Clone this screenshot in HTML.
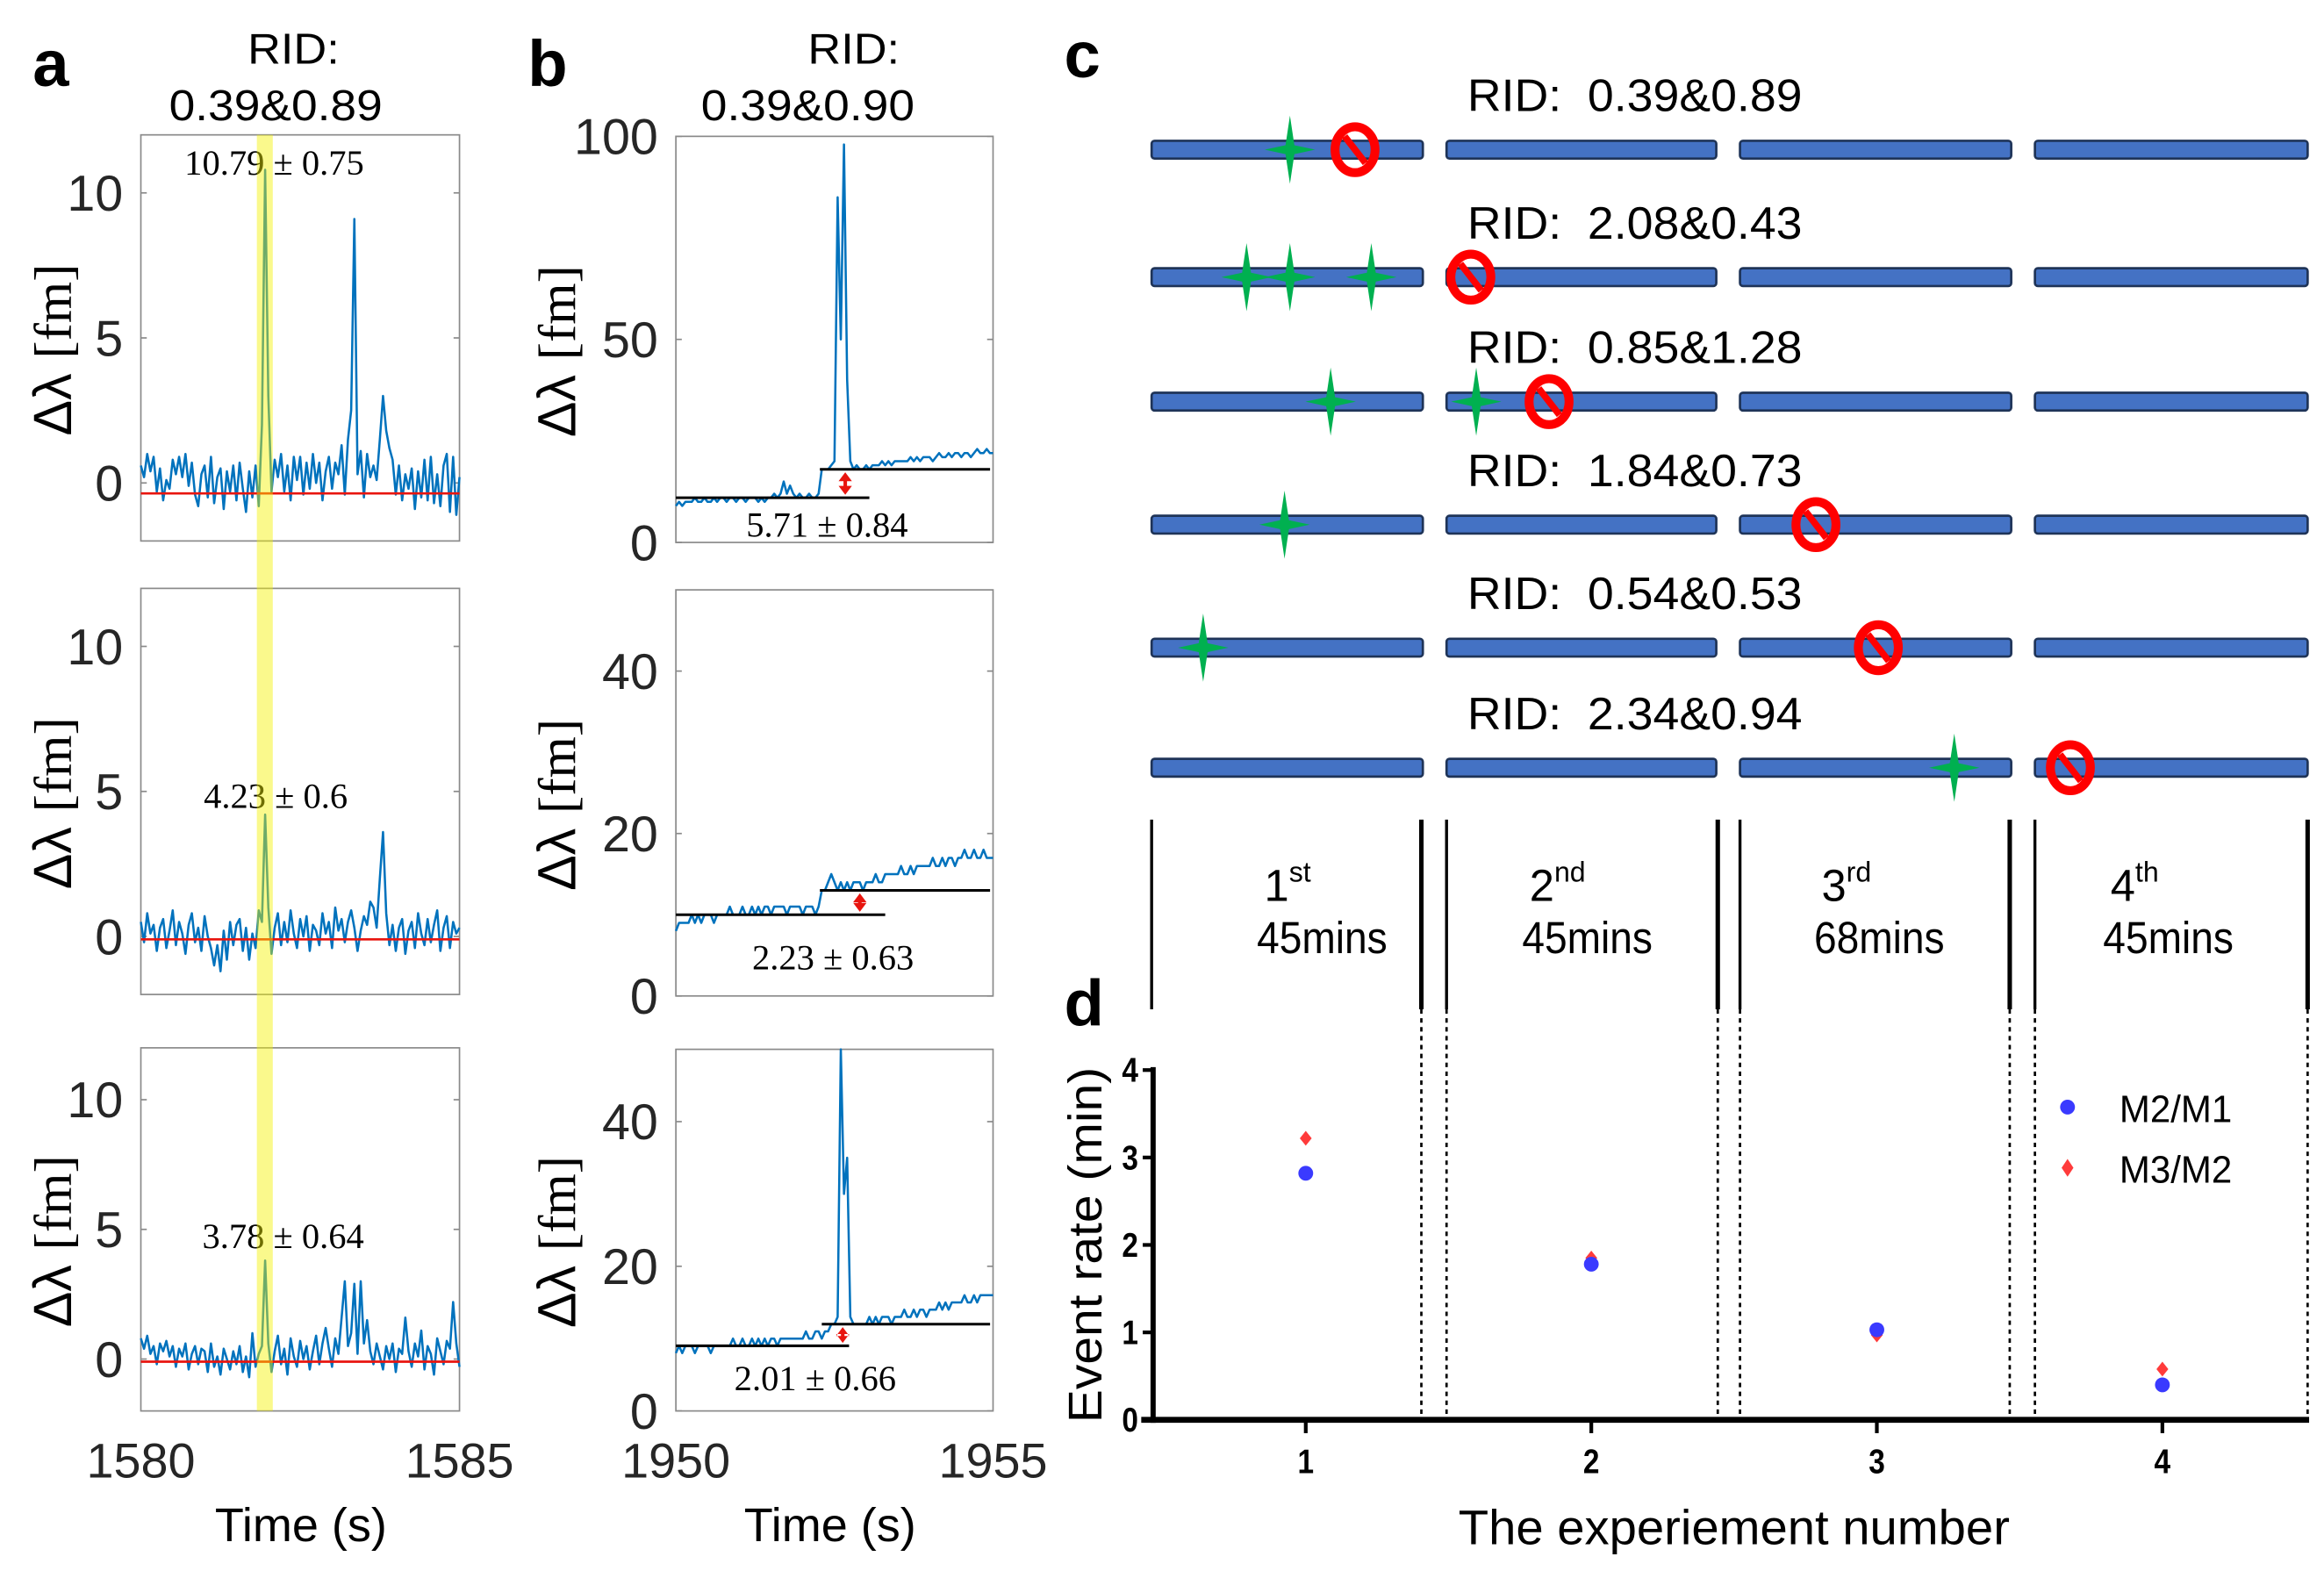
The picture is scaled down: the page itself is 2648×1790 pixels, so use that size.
<!DOCTYPE html>
<html><head><meta charset="utf-8"><style>
html,body{margin:0;padding:0;background:#fff}
svg{display:block}
.sans{font-family:"Liberation Sans",Arial,sans-serif}
.serif{font-family:"Liberation Serif","DejaVu Serif",serif}
</style></head><body>
<svg id="fig" width="2648" height="1790" viewBox="0 0 1568 1060" xmlns="http://www.w3.org/2000/svg">
<rect x="0" y="0" width="1568" height="1060" fill="#fff"/>
<g id="root"></g>
</svg>
<script>
// ---- Panel a data (x: 1580..1585, 101 samples) ----
const aTime = [1580, 1585];
const aTopVals = [0.6,0.2,1.0,0.4,0.9,-0.3,0.5,-0.6,0.1,-0.2,
0.8,0.3,0.9,0.2,1.0,-0.1,0.7,-0.4,-0.8,0.3,
0.6,-0.5,0.9,-0.7,0.2,0.5,-0.9,0.4,-0.3,0.6,
-0.6,0.7,-0.2,-1.0,0.4,-0.5,0.6,-0.8,2.0,10.8,
3.0,-0.3,0.8,0.2,1.0,-0.3,0.6,-0.6,0.9,0.1,
0.9,-0.4,0.7,-0.2,1.0,0.0,0.7,-0.6,0.4,0.9,
-0.2,0.7,0.3,1.3,-0.4,1.5,2.5,9.1,0.3,1.1,
-0.5,1.0,0.2,0.6,0.1,1.5,3.0,1.8,1.2,0.8,
-0.4,0.6,-0.6,0.3,-0.2,0.5,-0.9,0.4,-0.5,0.8,
-0.6,0.9,-0.7,0.3,-0.8,0.6,1.0,-1.0,0.9,-1.1,0.2];
const aMidVals = [0.5,-0.2,0.8,0.1,0.4,-0.5,0.3,0.6,-0.4,0.2,
0.9,-0.3,0.5,0.1,-0.6,0.4,0.8,-0.2,0.3,-0.5,
0.7,0.0,-0.4,-1.0,-0.3,-1.2,0.2,-0.8,0.5,-0.3,
0.4,0.6,-0.5,0.3,-0.8,0.1,-0.4,0.9,0.5,4.2,
1.0,-0.6,0.3,0.8,-0.3,0.5,-0.2,0.9,0.1,-0.4,
0.6,0.0,0.7,-0.5,0.4,0.2,-0.3,0.8,0.1,0.5,
-0.4,1.0,0.2,0.6,-0.2,0.5,0.9,0.3,-0.5,0.2,
0.7,0.4,1.2,1.0,0.3,2.0,3.6,0.8,-0.3,0.4,
-0.5,0.3,0.6,-0.6,0.2,0.5,-0.4,0.8,0.1,-0.3,
0.6,-0.2,0.4,0.9,-0.5,0.3,0.7,-0.4,0.5,0.1,0.3];
const aBotVals = [0.8,0.4,0.9,0.2,0.5,-0.2,0.6,0.3,0.7,0.1,
0.5,-0.3,0.4,0.1,0.6,-0.4,0.2,0.5,-0.2,0.4,
0.3,-0.5,0.6,-0.3,0.1,-0.6,0.4,0.0,-0.4,0.3,
-0.2,0.5,-0.5,0.1,-0.7,1.0,-0.3,0.2,0.5,3.8,
0.6,-0.5,0.3,0.9,-0.2,0.4,-0.6,0.8,0.1,-0.3,
0.7,0.0,0.5,-0.4,0.3,0.9,-0.2,0.6,1.2,0.4,
-0.3,0.8,0.2,1.6,3.0,0.5,1.0,2.9,0.2,3.0,
0.6,1.5,0.3,-0.2,0.6,0.1,-0.4,0.5,0.0,0.6,
-0.5,0.4,0.2,1.6,0.3,-0.3,0.6,0.1,1.1,-0.4,
0.5,0.2,-0.6,0.8,0.3,-0.2,0.7,0.4,2.2,0.6,-0.3];
const aBaseline = [-0.36, -0.1, -0.1];
const aLabels = ["10.79 \u00B1 0.75", "4.23 \u00B1 0.6", "3.78 \u00B1 0.64"];
const aYTicks = [0, 5, 10];
const aXTicks = [1580, 1585];
const aHighlight = [1581.82, 1582.07];

// ---- Panel b data (x: 1950..1955) ----
const bTime = [1950, 1955];
const bTopVals = [9,10,9,10,10,10,11,10,10,11,
10,10,11,10,11,11,10,11,11,10,
11,11,10,11,11,11,10,11,10,11,
11,12,11,12,15,12,14,12,11,12,
11,11,12,11,11,12,18,18,18,19,
20,85,50,98,40,20,18,19,18,18,
19,18,19,19,19,20,19,20,19,20,
20,20,20,20,21,20,21,20,21,21,
21,20,21,22,21,21,22,21,22,22,
21,22,22,21,22,23,22,22,23,22,22];
const bMidVals = [8,9,9,9,9,10,9,10,9,10,
10,10,9,10,10,10,10,11,10,10,
10,11,10,10,11,10,11,10,11,11,
10,11,11,11,11,10,11,11,11,11,
10,11,11,11,10,11,13,13,14,15,
14,13,14,13,14,13,14,14,14,13,
14,14,14,15,14,14,15,15,15,15,
15,16,15,15,16,15,16,16,16,16,
16,17,16,16,17,16,17,17,16,17,
17,18,17,17,18,17,17,18,17,17,17];
const bBotVals = [8,9,8,9,9,9,8,9,9,9,
9,8,9,9,9,9,9,9,10,9,
9,10,9,9,10,9,10,9,10,9,
10,10,9,10,10,10,10,10,10,10,
10,11,10,10,11,11,10,11,11,12,
12,13,50,30,35,13,12,12,12,12,
12,13,12,13,12,13,13,13,12,13,
13,13,14,13,13,14,13,14,14,13,
14,14,14,15,14,15,14,15,15,15,
15,16,15,15,16,15,16,16,16,16,16];
const bLowLevel = [11, 10, 9];
const bHighLevel = [18, 13, 12];
const bLowEnd = [1953.05, 1953.3, 1952.73];
const bHighStart = [1952.27, 1952.27, 1952.3];
const bArrowX = [1952.67, 1952.9, 1952.63];
const bLabels = ["5.71 \u00B1 0.84", "2.23 \u00B1 0.63", "2.01 \u00B1 0.66"];
const bYMax = [100, 50, 50];
const bYTicksTop = [0, 50, 100];
const bYTicksLower = [0, 20, 40];
const bXTicks = [1950, 1955];

// ---- Panel c data ----
const cRIDs = ["0.39&0.89","2.08&0.43","0.85&1.28","1.84&0.73","0.54&0.53","2.34&0.94"];
const cStars = [[0.51],[0.35,0.51,0.81],[0.66,1.11],[0.49],[0.19],[2.79]];
const cStops = [0.75, 1.09, 1.38, 2.28, 2.51, 3.13];
const cSessions = ["1","2","3","4"];
const cSup = ["st","nd","rd","th"];
const cMins = ["45mins","45mins","68mins","45mins"];

// ---- Panel d data ----
const dCats = [1, 2, 3, 4];
const dM2M1 = [2.82, 1.78, 1.03, 0.40];
const dM3M2 = [3.22, 1.85, 0.97, 0.58];
const dYTicks = [0, 1, 2, 3, 4];

const NS = "http://www.w3.org/2000/svg";
const root = document.getElementById("root");
function mk(tag, attrs, parent, text){
  const e = document.createElementNS(NS, tag);
  for (const k in attrs) e.setAttribute(k, attrs[k]);
  if (text !== undefined) e.textContent = text;
  (parent || root).appendChild(e);
  return e;
}
function lin(d0,d1,r0,r1){ return v => r0 + (v-d0)/(d1-d0)*(r1-r0); }

let t;
t = mk("text",{x:22,y:58,"font-size":44,"font-weight":"bold",class:"sans"},root,"a");
 
t = mk("text",{x:356,y:58,"font-size":44,"font-weight":"bold",class:"sans"},root,"b");
 
t = mk("text",{x:718,y:52,"font-size":44,"font-weight":"bold",class:"sans"},root,"c");
 
t = mk("text",{x:718,y:692,"font-size":44,"font-weight":"bold",class:"sans"},root,"d");
 

t = mk("text",{x:198,y:43,"font-size":29,"text-anchor":"middle",class:"sans",textLength:62,lengthAdjust:"spacingAndGlyphs"},root,"RID:");
 
t = mk("text",{x:186,y:81,"font-size":29,"text-anchor":"middle",class:"sans",textLength:144,lengthAdjust:"spacingAndGlyphs"},root,"0.39&0.89");
 
t = mk("text",{x:576,y:43,"font-size":29,"text-anchor":"middle",class:"sans",textLength:62,lengthAdjust:"spacingAndGlyphs"},root,"RID:");
 
t = mk("text",{x:545,y:81,"font-size":29,"text-anchor":"middle",class:"sans",textLength:144,lengthAdjust:"spacingAndGlyphs"},root,"0.39&0.90");
 

function yLabel(cx, cy, name){
  const g = mk("text",{x:0,y:0,transform:`translate(${cx},${cy}) rotate(-90)`,"text-anchor":"middle","font-size":36});
   
  mk("tspan",{class:"sans"},g,"\u0394\u03BB ");
  mk("tspan",{class:"serif"},g,"[fm]");
}

function tracePanel(opt){
  const g = mk("g",{});
   
  const X = lin(opt.xd[0],opt.xd[1],opt.x0,opt.x1);
  const Y = lin(opt.yd[0],opt.yd[1],opt.y1,opt.y0);
  const box = mk("rect",{x:opt.x0,y:opt.y0,width:opt.x1-opt.x0,height:opt.y1-opt.y0,fill:"#fff",stroke:"#8a8a8a","stroke-width":1},g);
   
  opt.yticks.forEach(v=>{
    const y = Y(v);
    mk("line",{x1:opt.x0,x2:opt.x0+4,y1:y,y2:y,stroke:"#8a8a8a"},g);
    mk("line",{x1:opt.x1,x2:opt.x1-4,y1:y,y2:y,stroke:"#8a8a8a"},g);
    const tl = mk("text",{x:opt.x0-12,y:y+12,"font-size":34,"text-anchor":"end",class:"sans",fill:"#262626"},g,String(v));
     
  });
  const vals = opt.vals, n = vals.length;
  let d = "";
  vals.forEach((v,i)=>{
    const xv = opt.xd[0] + (opt.xd[1]-opt.xd[0])*i/(n-1);
    d += (i?"L":"M") + X(xv).toFixed(2) + "," + Y(v).toFixed(2);
  });
  const p = mk("path",{d:d,fill:"none",stroke:"#0072bd","stroke-width":1.5,"stroke-linejoin":"round"},g);
   
  return {g,X,Y};
}

// ---- Panel a ----
const aBoxes = [[91,365],[397,671],[707,952]];
const aVals = [aTopVals,aMidVals,aBotVals];
const aTextY = [118,545,842];
const aTextX = [185,186,191];
const aNames = ['panel-a-top','panel-a-middle','panel-a-bottom'];
let aX;
aBoxes.forEach((b,i)=>{
  const r = tracePanel({name:aNames[i],x0:95,x1:310,y0:b[0],y1:b[1],xd:aTime,yd:[-2,12],yticks:aYTicks,vals:aVals[i]});
  aX = r.X;
  const bl = mk("line",{x1:95,x2:310,y1:r.Y(aBaseline[i]),y2:r.Y(aBaseline[i]),stroke:"#e8150f","stroke-width":1.6},r.g);
   
  const lab = mk("text",{x:aTextX[i],y:aTextY[i],"font-size":24,"text-anchor":"middle",class:"serif"},r.g,aLabels[i]);
   
  yLabel(48,(b[0]+b[1])/2+8,'y-axis-title');
});
const hl = mk("rect",{x:aX(aHighlight[0]),y:91,width:aX(aHighlight[1])-aX(aHighlight[0]),height:952-91,fill:"#f4f100","fill-opacity":0.45});
 
aXTicks.forEach(v=>{
  const tl = mk("text",{x:aX(v),y:997,"font-size":33,"text-anchor":"middle",class:"sans",fill:"#262626"},root,String(v));
   
});
t = mk("text",{x:203,y:1040,"font-size":32,"text-anchor":"middle",class:"sans"},root,"Time (s)");
 

// ---- Panel b ----
const bBoxes = [[92,366],[398,672],[708,952]];
const bVals = [bTopVals,bMidVals,bBotVals];
const bTextY = [362,654,938];
const bTextX = [558,562,550];
const bNames = ['panel-b-top','panel-b-middle','panel-b-bottom'];
let bX;
bBoxes.forEach((b,i)=>{
  const r = tracePanel({name:bNames[i],x0:456,x1:670,y0:b[0],y1:b[1],xd:bTime,yd:[0,bYMax[i]],yticks:i===0?bYTicksTop:bYTicksLower,vals:bVals[i]});
  bX = r.X;
  const l1 = mk("line",{x1:456,x2:r.X(bLowEnd[i]),y1:r.Y(bLowLevel[i]),y2:r.Y(bLowLevel[i]),stroke:"#000","stroke-width":1.8},r.g);
   
  const l2 = mk("line",{x1:r.X(bHighStart[i]),x2:668,y1:r.Y(bHighLevel[i]),y2:r.Y(bHighLevel[i]),stroke:"#000","stroke-width":1.8},r.g);
   
  const ax = r.X(bArrowX[i]), ya = r.Y(bHighLevel[i])+2, yb = r.Y(bLowLevel[i])-2;
  const ar = mk("g",{},r.g);
   
  mk("line",{x1:ax,x2:ax,y1:ya+4,y2:yb-4,stroke:"#e8150f","stroke-width":2.4},ar);
  mk("path",{d:`M${ax-4.5},${ya+6}L${ax},${ya}L${ax+4.5},${ya+6}Z M${ax-4.5},${yb-6}L${ax},${yb}L${ax+4.5},${yb-6}Z`,fill:"#e8150f"},ar);
  const lab = mk("text",{x:bTextX[i],y:bTextY[i],"font-size":24,"text-anchor":"middle",class:"serif"},r.g,bLabels[i]);
   
  yLabel(388,(b[0]+b[1])/2+8,'y-axis-title');
});
bXTicks.forEach(v=>{
  const tl = mk("text",{x:bX(v),y:997,"font-size":33,"text-anchor":"middle",class:"sans",fill:"#262626"},root,String(v));
   
});
t = mk("text",{x:560,y:1040,"font-size":32,"text-anchor":"middle",class:"sans"},root,"Time (s)");
 

// ---- Panel c ----
const segX = [[777,960],[976,1158],[1174,1357],[1373,1557]];
function sessX(u){ const k = Math.min(3,Math.floor(u)); const s = segX[k]; return s[0] + (u-k)*(s[1]-s[0]); }
const rowY = [101,187,271,354,437,518];
cRIDs.forEach((rid,ri)=>{
  const g = mk("g",{});
   
  const y = rowY[ri];
  const tt = mk("text",{x:990,y:y-26,"font-size":31,class:"sans",textLength:226,lengthAdjust:"spacingAndGlyphs"},g,"RID:\u00A0\u00A0"+rid);
   
  segX.forEach(s=>{
    const r = mk("rect",{x:s[0],y:y-6,width:s[1]-s[0],height:12,rx:2,fill:"#4472c4",stroke:"#1f3458","stroke-width":1.6},g);
     
  });
  cStars[ri].forEach(u=>{
    const x = sessX(u);
    const s = mk("path",{d:`M${x},${y-23}L${x+3},${y-3}L${x+17},${y}L${x+3},${y+3}L${x},${y+23}L${x-3},${y+3}L${x-17},${y}L${x-3},${y-3}Z`,fill:"#00b050"},g);
     
  });
  const cx = sessX(cStops[ri]);
  const st = mk("g",{},g);
   
  mk("ellipse",{cx:cx,cy:y,rx:13.5,ry:15.5,fill:"none",stroke:"#ff0000","stroke-width":6},st);
  mk("line",{x1:cx-7,y1:y-9,x2:cx+7,y2:y+9,stroke:"#ff0000","stroke-width":4.5},st);
});
const sepX = [777,959,976,1159,1174,1356,1373,1557];
sepX.forEach((x,i)=>{
  const w = (i%2===1)?3:2;
  const s1 = mk("line",{x1:x,x2:x,y1:553,y2:681,stroke:"#000","stroke-width":w});
   
  if(i>0){
    const s2 = mk("line",{x1:x,x2:x,y1:681,y2:958,stroke:"#000","stroke-width":1.6,"stroke-dasharray":"3,3"});
     
  }
});
const colC = [892,1071,1268,1463];
cSessions.forEach((s,i)=>{
  const tt = mk("text",{x:colC[i]-39,y:608,"font-size":30,class:"sans"});
   
  mk("tspan",{},tt,s);
  mk("tspan",{"font-size":19,dy:-13},tt,cSup[i]);
  const mm = mk("text",{x:colC[i],y:643,"font-size":30,"text-anchor":"middle",class:"sans",textLength:88,lengthAdjust:"spacingAndGlyphs"},root,cMins[i]);
   
});

// ---- Panel d ----
const DX = lin(1,4,881,1459);
const DY = lin(0,4,958,722);
const dg = mk("g",{});
 
const ya = mk("line",{x1:778,x2:778,y1:720,y2:960,stroke:"#000","stroke-width":3.5},dg);
 
const xa = mk("line",{x1:770,x2:1558,y1:DY(0),y2:DY(0),stroke:"#000","stroke-width":4},dg);
 
dYTicks.forEach(v=>{
  mk("line",{x1:771,x2:778,y1:DY(v),y2:DY(v),stroke:"#000","stroke-width":2.5},dg);
  const tl = mk("text",{x:768,y:DY(v)+8,"font-size":23,"font-weight":"bold","text-anchor":"end",class:"sans",textLength:11,lengthAdjust:"spacingAndGlyphs"},dg,String(v));
   
});
dCats.forEach(c=>{
  mk("line",{x1:DX(c),x2:DX(c),y1:DY(0),y2:DY(0)+9,stroke:"#000","stroke-width":2.5},dg);
  const tl = mk("text",{x:DX(c),y:DY(0)+36,"font-size":23,"font-weight":"bold","text-anchor":"middle",class:"sans",textLength:11,lengthAdjust:"spacingAndGlyphs"},dg,String(c));
   
});
dCats.forEach((c,i)=>{
  const x = DX(c);
  const y2 = DY(dM3M2[i]);
  const dm = mk("path",{d:`M${x},${y2-5}L${x+4},${y2}L${x},${y2+5}L${x-4},${y2}Z`,fill:"#ff3b3b"},dg);
   
  const ci = mk("circle",{cx:x,cy:DY(dM2M1[i]),r:5,fill:"#3a3aff"},dg);
   
});
const lg = mk("g",{},dg);
 
mk("circle",{cx:1395,cy:747,r:5,fill:"#3a3aff"},lg);
mk("text",{x:1430,y:757,"font-size":26,class:"sans",textLength:76,lengthAdjust:"spacingAndGlyphs"},lg,"M2/M1");
mk("path",{d:"M1395,782L1399,788L1395,794L1391,788Z",fill:"#ff3b3b"},lg);
mk("text",{x:1430,y:798,"font-size":26,class:"sans",textLength:76,lengthAdjust:"spacingAndGlyphs"},lg,"M3/M2");
t = mk("text",{x:0,y:0,transform:"translate(743,840) rotate(-90)","font-size":32,"text-anchor":"middle",class:"sans",textLength:240,lengthAdjust:"spacingAndGlyphs"},root,"Event rate (min)");
 
t = mk("text",{x:1170,y:1042,"font-size":33,"text-anchor":"middle",class:"sans",textLength:372,lengthAdjust:"spacingAndGlyphs"},root,"The experiement number");
 
</script>
</body></html>
